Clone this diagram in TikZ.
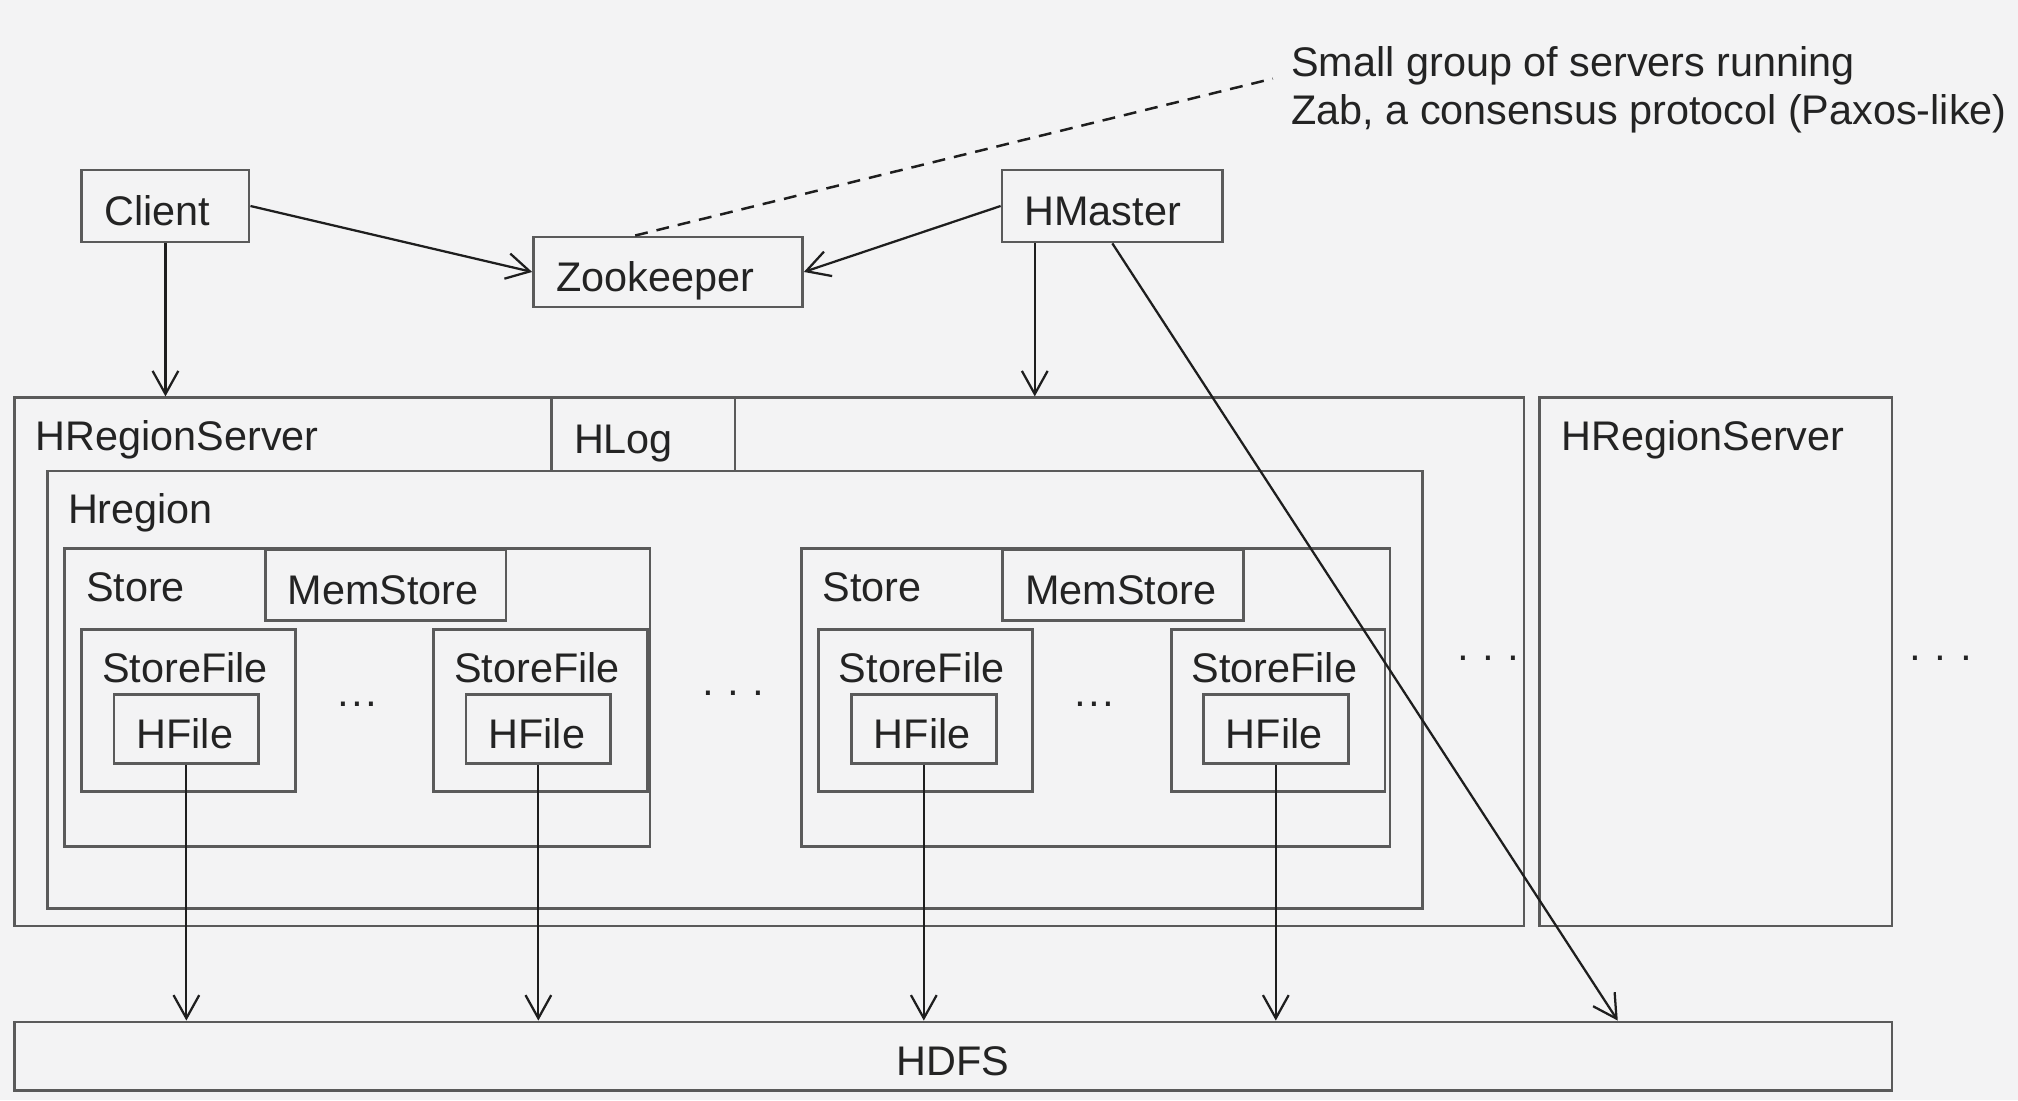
\documentclass[tikz,border=0pt]{standalone}
\usepackage{fontspec}
\setmainfont{Liberation Sans}
\usetikzlibrary{positioning, arrows.meta}
\definecolor{bgc}{RGB}{243,243,244}
\definecolor{boxc}{RGB}{90,90,90}
\definecolor{arrc}{RGB}{30,30,30}
\definecolor{txtc}{RGB}{35,35,35}

\begin{document}
\begin{tikzpicture}[x=0.2mm, y=-0.2mm,
    every node/.style={font=\fontsize{18.3}{21.3}\selectfont, text=txtc},
    blk/.style={draw=boxc, line width=1.2pt, anchor=north west,
      inner xsep=3.5mm, inner ysep=0pt, minimum height=11mm,
      align=left, text height=17pt, text depth=0pt},
    cbox/.style={draw=boxc, line width=1.2pt, anchor=north west, inner sep=0pt},
    lbl/.style={anchor=base west, inner sep=0pt},
    dots/.style={inner sep=0pt},
    arr/.style={draw=arrc, line width=1pt, ->},
    noteline/.style={draw=arrc, line width=1.1pt, dash pattern=on 2mm off 1.4mm},
    >={Straight Barb[length=3.6mm,width=4mm]}]
  \path[use as bounding box, fill=bgc] (0,0) rectangle (1568,855);

  % top row
  \node[blk, text width=19mm, minimum height=11.2mm] (client) at (62.5,131) {Client};
  \node[blk, text width=34.8mm, minimum height=10.9mm] (zk) at (413.5,183) {Zookeeper};
  \node[blk, text width=27.3mm, minimum height=11.2mm] (hmaster) at (777.5,131) {HMaster};
  \node[anchor=north west, align=left, inner sep=0pt] (note) at (1003,36)
    {Small group of servers running\\Zab, a consensus protocol (Paxos-like)};

  % region servers
  \node[cbox, minimum width=234.6mm, minimum height=82.1mm] (hrs) at (10,308) {};
  \node[lbl] (hrsT) at ([shift={(17.5,42)}]hrs.north west) {HRegionServer};
  \node[blk, text width=21.5mm, minimum height=11.4mm] (hlog) at (427.5,308) {HLog};
  \node[cbox, minimum width=54.8mm, minimum height=82.1mm] (hrs2) at (1195,308) {};
  \node[lbl] (hrs2T) at ([shift={(18,42)}]hrs2.north west) {HRegionServer};
  \node[cbox, minimum width=213.6mm, minimum height=68mm] (hreg) at (36,365) {};
  \node[lbl] (hregT) at ([shift={(16.5,42)}]hreg.north west) {Hregion};

  % first store
  \node[cbox, minimum width=91mm, minimum height=46.3mm] (store1) at (49,425) {};
  \node[lbl] (store1T) at ([shift={(17.5,42)}]store1.north west) {Store};
  \node[blk, text width=30.4mm] (mem1) at ([shift={(156,1)}]store1.north west) {MemStore};
  \node[cbox, minimum width=33.2mm, minimum height=25.2mm] (sf1) at ([shift={(13.5,63)}]store1.north west) {};
  \node[lbl] (sf1T) at ([shift={(16.5,42)}]sf1.north west) {StoreFile};
  \node[blk, text width=15.5mm, minimum height=10.7mm] (hf1) at ([shift={(25,50.7)}]sf1.north west) {HFile};
  \node[cbox, minimum width=33.2mm, minimum height=25.2mm] (sf2) at ([shift={(287,63)}]store1.north west) {};
  \node[lbl] (sf2T) at ([shift={(16.5,42)}]sf2.north west) {StoreFile};
  \node[blk, text width=15.5mm, minimum height=10.7mm] (hf2) at ([shift={(25,50.7)}]sf2.north west) {HFile};

  % second store
  \node[cbox, minimum width=91.5mm, minimum height=46.3mm] (store2) at (621.5,425) {};
  \node[lbl] (store2T) at ([shift={(17.5,42)}]store2.north west) {Store};
  \node[blk, text width=30.4mm] (mem2) at ([shift={(156.5,1)}]store2.north west) {MemStore};
  \node[cbox, minimum width=33.2mm, minimum height=25.2mm] (sf3) at ([shift={(13.5,63)}]store2.north west) {};
  \node[lbl] (sf3T) at ([shift={(16.5,42)}]sf3.north west) {StoreFile};
  \node[blk, text width=15.5mm, minimum height=10.7mm] (hf3) at ([shift={(25.5,50.7)}]sf3.north west) {HFile};
  \node[cbox, minimum width=33.2mm, minimum height=25.2mm] (sf4) at ([shift={(287.5,63)}]store2.north west) {};
  \node[lbl] (sf4T) at ([shift={(16.5,42)}]sf4.north west) {StoreFile};
  \node[blk, text width=15.5mm, minimum height=10.7mm] (hf4) at ([shift={(25,50.7)}]sf4.north west) {HFile};

  \node[dots] (dA) at (277.5,551) {···};
  \node[dots] (dB) at (850.5,551) {···};
  \node[dots] (dC) at (570,542) {· · ·};
  \node[dots] (dD) at (1156.5,515) {· · ·};
  \node[dots] (dE) at (1508,515) {· · ·};

  \node[cbox, minimum width=291.8mm, minimum height=10.6mm, text height=17pt, text depth=0pt] (hdfs) at (10,793) {HDFS};

  % connectors
  \coordinate (hmT) at ([shift={(26.5,0)}]hmaster.south west);
  \coordinate (fsIn) at ([shift={(1247,0)}]hdfs.north west);
  \draw[arr] (client.east) -- (zk.west);
  \draw[arr] (hmaster.west) -- (zk.east);
  \draw[arr] (client) -- (client |- hrs.north);
  \draw[arr] (hmT) -- (hmT |- hrs.north);
  \draw[arr] (hmaster.south) -- (fsIn);
  \draw[arr] (hf1) -- (hf1 |- hdfs.north);
  \draw[arr] (hf2) -- (hf2 |- hdfs.north);
  \draw[arr] (hf3) -- (hf3 |- hdfs.north);
  \draw[arr] (hf4) -- (hf4 |- hdfs.north);
  \draw[noteline] ([shift={(-25.5,0)}]zk.north) -- ([shift={(-14,-9)}]note.west);
\end{tikzpicture}
\end{document}
